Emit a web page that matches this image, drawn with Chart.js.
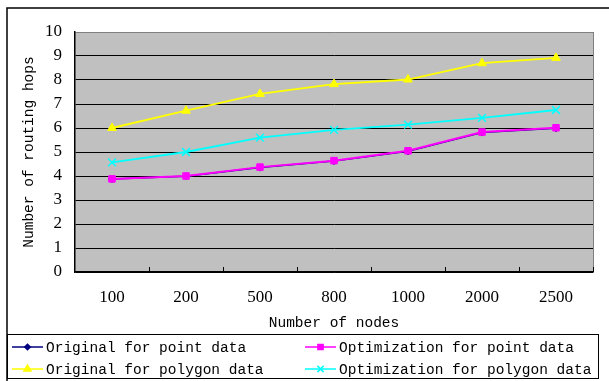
<!DOCTYPE html>
<html>
<head>
<meta charset="utf-8">
<title>Number of routing hops</title>
<script src="https://cdn.jsdelivr.net/npm/chart.js@4/dist/chart.umd.min.js"></script>
<style>
  html, body { margin: 0; padding: 0; background: #fff; }
  #wrap { width: 609px; height: 381px; }
</style>
</head>
<body>
<div id="wrap"><canvas id="hopsChart" width="609" height="381"></canvas></div>
<script>
const nodeCounts = ['100', '200', '500', '800', '1000', '2000', '2500'];
const originalPoint = [3.87, 3.99, 4.35, 4.62, 5.03, 5.81, 5.99];
const optimizationPoint = [3.88, 4.0, 4.37, 4.64, 5.05, 5.83, 6.01];
const originalPolygon = [6.0, 6.72, 7.42, 7.83, 8.02, 8.7, 8.92];
const optimizationPolygon = [4.57, 5.0, 5.6, 5.92, 6.14, 6.42, 6.75];
const yMin = 0;
const yMax = 10;
const yStep = 1;

const monoFont = { family: '"Liberation Mono", "DejaVu Sans Mono", monospace', size: 14.5 };
const serifFont = { family: '"Liberation Serif", "DejaVu Serif", serif', size: 17 };

// legend slots: [column x, row y] in the box under the plot
const legendSlots = [[12, 347], [305, 347], [12, 369], [305, 369]];

const frameAndLegend = {
  id: 'frameAndLegend',
  beforeDraw(chart) {
    const { ctx, chartArea: a } = chart;
    ctx.save();
    ctx.fillStyle = '#fff';
    ctx.fillRect(0, 0, chart.width, chart.height);
    ctx.fillStyle = '#c0c0c0';
    ctx.fillRect(a.left, a.top, a.right - a.left, a.bottom - a.top);
    ctx.restore();
  },
  afterDraw(chart) {
    const { ctx, chartArea: a } = chart;
    ctx.save();

    // grey right edge of the plot
    ctx.strokeStyle = '#808080';
    ctx.lineWidth = 1;
    ctx.beginPath();
    ctx.moveTo(a.right + 0.5, a.top);
    ctx.lineTo(a.right + 0.5, a.bottom);
    ctx.stroke();

    // small tick marks between categories, pointing up
    const xScale = chart.scales.x;
    const step = xScale.getPixelForTick(1) - xScale.getPixelForTick(0);
    ctx.strokeStyle = '#000';
    for (let i = 0; i < nodeCounts.length; i++) {
      const x = Math.round(xScale.getPixelForTick(i) + step / 2) + 0.5;
      ctx.beginPath();
      ctx.moveTo(x, a.bottom);
      ctx.lineTo(x, a.bottom - 5);
      ctx.stroke();
    }

    // outer frame
    ctx.lineWidth = 1.5;
    ctx.strokeStyle = '#000';
    ctx.strokeRect(7, 8, 620, 380);

    // legend box
    ctx.lineWidth = 1;
    ctx.strokeRect(7.5, 334.5, 591, 44);

    ctx.font = `${monoFont.size}px ${monoFont.family}`;
    ctx.textBaseline = 'middle';
    ctx.textAlign = 'left';
    chart.data.datasets.forEach((ds) => {
      const [x, y] = legendSlots[ds.legendIndex];
      ctx.strokeStyle = ds.borderColor;
      ctx.lineWidth = 1.5;
      ctx.beginPath();
      ctx.moveTo(x, y);
      ctx.lineTo(x + 31, y);
      ctx.stroke();
      ctx.fillStyle = ds.pointBackgroundColor;
      ctx.strokeStyle = ds.pointBorderColor;
      Chart.helpers.drawPoint(ctx, {
        pointStyle: ds.pointStyle,
        radius: ds.pointRadius * 0.8,
        rotation: 0,
        borderWidth: ds.pointBorderWidth
      }, x + 15.5, y);
      ctx.fillStyle = '#000';
      ctx.fillText(ds.label, x + 34, y + 1);
    });

    ctx.restore();
  }
};

function buildDataset(label, values, color, style, radius, width, legendIndex, order) {
  return {
    label,
    data: values,
    borderColor: color,
    backgroundColor: color,
    pointBackgroundColor: color,
    pointBorderColor: color,
    pointBorderWidth: style === 'crossRot' ? 1.5 : 1,
    pointStyle: style,
    pointRadius: radius,
    borderWidth: width,
    tension: 0,
    fill: false,
    legendIndex,
    order
  };
}

new Chart(document.getElementById('hopsChart').getContext('2d'), {
  type: 'line',
  data: {
    labels: nodeCounts,
    datasets: [
      buildDataset('Original for point data', originalPoint, '#000080', 'rectRot', 3.5, 1.5, 0, 3),
      buildDataset('Optimization for point data', optimizationPoint, '#ff00ff', 'rect', 4.6, 2, 1, 0),
      buildDataset('Original for polygon data', originalPolygon, '#ffff00', 'triangle', 5, 1.8, 2, 1),
      buildDataset('Optimization for polygon data', optimizationPolygon, '#00ffff', 'crossRot', 5.5, 1.8, 3, 2)
    ]
  },
  options: {
    responsive: false,
    animation: false,
    layout: { padding: { left: 0, right: 16, top: 32, bottom: 0 } },
    plugins: { legend: { display: false }, tooltip: { enabled: false } },
    scales: {
      x: {
        offset: true,
        afterFit: (scale) => { scale.height = 109; },
        grid: { display: false, drawTicks: false },
        border: { display: true, color: '#000', width: 1.5 },
        ticks: { color: '#000', font: serifFont, padding: 15, maxRotation: 0 },
        title: {
          display: true,
          text: 'Number of nodes',
          color: '#000',
          font: monoFont,
          padding: { top: 0, bottom: 49 }
        }
      },
      y: {
        min: yMin,
        max: yMax,
        afterFit: (scale) => { scale.width = 75; },
        grid: {
          drawTicks: false,
          color: (c) => (c.tick && c.tick.value === yMax ? '#808080' : '#000'),
          lineWidth: 1
        },
        border: { display: true, color: '#000', width: 1.5 },
        ticks: { stepSize: yStep, color: '#000', font: serifFont, padding: 13 },
        title: {
          display: true,
          text: 'Number of routing hops',
          color: '#000',
          font: monoFont,
          padding: { top: 20, bottom: 0 }
        }
      }
    }
  },
  plugins: [frameAndLegend]
});
</script>
</body>
</html>
